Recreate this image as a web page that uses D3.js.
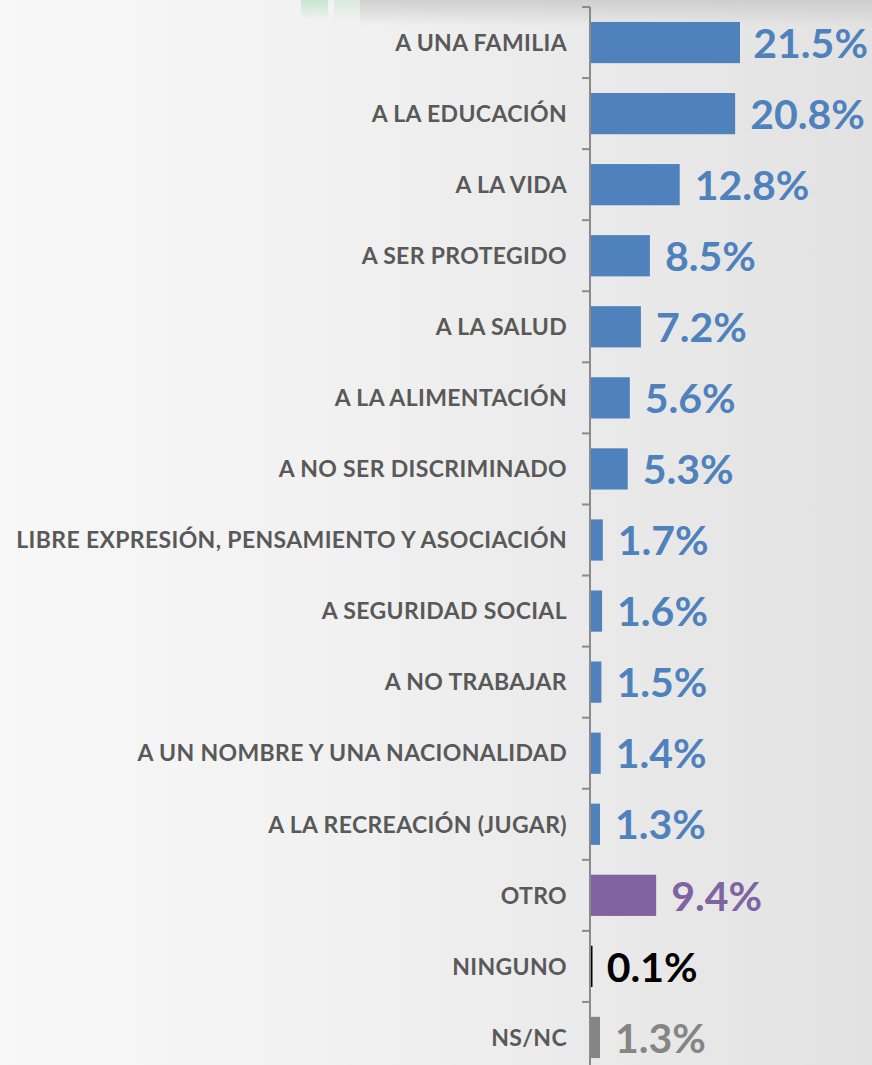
<!DOCTYPE html>
<html><head><meta charset="utf-8">
<script src="https://cdn.jsdelivr.net/npm/d3@7/dist/d3.min.js"></script>
<style>html,body{margin:0;padding:0;background:#eee;}svg{display:block;}</style>
</head><body>
<script>
const categories = ["A UNA FAMILIA","A LA EDUCACIÓN","A LA VIDA","A SER PROTEGIDO","A LA SALUD","A LA ALIMENTACIÓN","A NO SER DISCRIMINADO","LIBRE EXPRESIÓN, PENSAMIENTO Y ASOCIACIÓN","A SEGURIDAD SOCIAL","A NO TRABAJAR","A UN NOMBRE Y UNA NACIONALIDAD","A LA RECREACIÓN (JUGAR)","OTRO","NINGUNO","NS/NC"];
const values = [21.5,20.8,12.8,8.5,7.2,5.6,5.3,1.7,1.6,1.5,1.4,1.3,9.4,0.1,1.3];
const valueLabels = ["21.5%","20.8%","12.8%","8.5%","7.2%","5.6%","5.3%","1.7%","1.6%","1.5%","1.4%","1.3%","9.4%","0.1%","1.3%"];
const groups = ["derecho","derecho","derecho","derecho","derecho","derecho","derecho","derecho","derecho","derecho","derecho","derecho","otro","ninguno","nsnc"];

const W = 872, H = 1065;
const colorOf = {derecho:"#4f81bd", otro:"#8064a2", ninguno:"#000000", nsnc:"#858585"};

const svg = d3.select("body").append("svg").attr("width", W).attr("height", H);
const defs = svg.append("defs");
const bg = defs.append("linearGradient").attr("id","bg").attr("x1","0").attr("x2","1").attr("y1","0").attr("y2","0");
bg.append("stop").attr("offset","0").attr("stop-color","#f8f8f8");
bg.append("stop").attr("offset","0.4").attr("stop-color","#f1f1f1");
bg.append("stop").attr("offset","1").attr("stop-color","#e2e2e2");
const sh = defs.append("linearGradient").attr("id","sh").attr("x1","0").attr("x2","0").attr("y1","0").attr("y2","1");
sh.append("stop").attr("offset","0").attr("stop-color","#c8c8c8").attr("stop-opacity",0.8);
sh.append("stop").attr("offset","1").attr("stop-color","#c8c8c8").attr("stop-opacity",0);
const gr = defs.append("linearGradient").attr("id","gr").attr("x1","0").attr("x2","0").attr("y1","0").attr("y2","1");
gr.append("stop").attr("offset","0").attr("stop-color","#c6e6cf");
gr.append("stop").attr("offset","1").attr("stop-color","#c6e6cf").attr("stop-opacity",0);

svg.append("rect").attr("width",W).attr("height",H).attr("fill","url(#bg)");
svg.append("rect").attr("x",360).attr("y",0).attr("width",W-360).attr("height",26).attr("fill","url(#sh)");
svg.append("rect").attr("x",301).attr("y",0).attr("width",27).attr("height",20).attr("fill","url(#gr)");
svg.append("rect").attr("x",334).attr("y",0).attr("width",26).attr("height",20).attr("fill","url(#gr)").attr("opacity",0.6);

const axisX = 590;
const x = d3.scaleLinear().domain([0, 21.5]).range([axisX + 1, 740]);
const y = d3.scaleBand().domain(categories).range([7, 1073]).paddingInner(0.42).paddingOuter(0.21);

// bars
svg.append("g").selectAll("rect").data(categories).join("rect")
  .attr("x", x(0))
  .attr("y", d => y(d))
  .attr("width", (d,i) => Math.max(1.5, x(values[i]) - x(0)))
  .attr("height", y.bandwidth())
  .attr("fill", (d,i) => colorOf[groups[i]]);

// axis line & boundary ticks
const ag = svg.append("g").attr("stroke","#8a8a8a").attr("stroke-width",2);
ag.append("line").attr("x1",axisX).attr("x2",axisX).attr("y1",y.range()[0]).attr("y2",H);
ag.selectAll("line.t").data(d3.range(categories.length + 1)).join("line").attr("class","t")
  .attr("x1", axisX - 8).attr("x2", axisX)
  .attr("y1", i => y.range()[0] + i * y.step())
  .attr("y2", i => y.range()[0] + i * y.step());

// category labels
svg.append("g").selectAll("text").data(categories).join("text")
  .attr("x", 567)
  .attr("y", d => y(d) + y.bandwidth()/2)
  .attr("dy", "0.36em")
  .attr("text-anchor","end")
  .attr("font-family","Lato, 'Open Sans', sans-serif")
  .attr("font-weight", 700)
  .attr("font-size", 23)
  .attr("letter-spacing", "0.35px")
  .attr("fill","#595959")
  .text(d => d);

// value labels
const vl = svg.append("g").selectAll("text").data(categories).join("text")
  .attr("y", d => y(d) + y.bandwidth()/2)
  .attr("dy", "0.37em")
  .attr("font-family","Lato, 'Open Sans', sans-serif")
  .attr("font-weight", 700)
  .attr("font-size", 41)
  .attr("fill", (d,i) => colorOf[groups[i]])
  .text((d,i) => valueLabels[i]);
vl.each(function(d,i){
  const w = this.getComputedTextLength();
  const xs = Math.min(x(values[i]) + 15, W - 4 - w);
  d3.select(this).attr("x", xs);
});
</script>
</body></html>
